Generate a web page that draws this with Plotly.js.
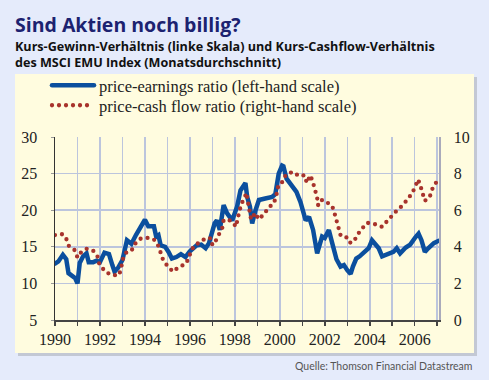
<!DOCTYPE html>
<html>
<head>
<meta charset="utf-8">
<script src="https://cdn.plot.ly/plotly-3.0.1.min.js"></script>
<style>
html,body{margin:0;padding:0;background:#e5ebfb;}
#chart{width:489px;height:380px;}
path.js-line{stroke-linecap:round !important;}
</style>
</head>
<body>
<div id="chart"></div>
<script>
// Price-earnings ratio (left-hand scale)
const peYear = [1990.0,1990.15,1990.35,1990.5,1990.6,1990.8,1990.9,1991.0,1991.1,1991.25,1991.4,1991.5,1991.7,1991.85,1992.0,1992.2,1992.4,1992.55,1992.65,1992.8,1993.0,1993.2,1993.4,1993.6,1993.8,1994.0,1994.15,1994.4,1994.5,1994.6,1994.7,1994.9,1995.05,1995.2,1995.4,1995.6,1995.8,1996.0,1996.3,1996.5,1996.7,1996.85,1997.1,1997.2,1997.33,1997.5,1997.65,1997.88,1998.1,1998.25,1998.47,1998.55,1998.67,1998.77,1998.92,1999.07,1999.35,1999.5,1999.66,1999.8,1999.95,2000.1,2000.16,2000.3,2000.47,2000.74,2000.92,2001.15,2001.3,2001.48,2001.66,2001.88,2002.0,2002.18,2002.33,2002.52,2002.7,2002.85,2003.0,2003.15,2003.25,2003.4,2003.55,2003.8,2003.95,2004.1,2004.25,2004.4,2004.55,2004.75,2005.05,2005.2,2005.35,2005.6,2005.8,2006.03,2006.17,2006.3,2006.45,2006.6,2006.85,2007.05];
const peValue = [12.7,13.0,13.9,13.3,11.4,10.9,10.7,10.0,12.8,13.7,14.1,12.9,12.9,13.1,12.9,14.2,14.0,12.5,11.6,12.1,13.2,15.9,15.4,16.6,17.7,18.7,17.8,17.8,16.4,16.6,15.2,15.0,14.3,13.4,13.6,14.0,13.6,14.4,15.2,15.3,14.8,15.5,18.2,18.6,17.3,20.7,19.6,18.6,20.5,22.7,23.7,21.8,20.5,18.2,20.0,21.4,21.6,21.7,21.8,22.2,25.0,26.1,26.0,24.3,23.6,22.5,21.1,18.6,19.1,17.3,14.1,16.4,16.2,17.3,15.5,13.3,12.3,12.5,11.8,11.3,12.3,13.4,13.7,14.3,14.8,15.9,15.4,14.8,13.7,14.0,14.3,14.8,14.1,14.9,15.3,16.3,16.8,15.9,14.3,14.8,15.5,15.8];

// Price-cash flow ratio (right-hand scale)
const pcfYear = [1990.0,1990.33,1990.5,1990.62,1990.87,1991.0,1991.1,1991.4,1991.7,1991.9,1991.97,1992.25,1992.55,1992.85,1992.95,1993.0,1993.15,1993.4,1993.55,1993.8,1994.1,1994.4,1994.6,1994.7,1994.8,1995.0,1995.25,1995.5,1995.8,1995.95,1996.05,1996.2,1996.45,1996.75,1996.95,1997.0,1997.15,1997.3,1997.45,1997.5,1997.75,1997.95,1998.05,1998.2,1998.3,1998.45,1998.52,1998.58,1998.65,1998.72,1998.8,1998.92,1999.05,1999.3,1999.5,1999.73,1999.85,1999.9,2000.06,2000.15,2000.33,2000.6,2000.85,2001.1,2001.2,2001.36,2001.48,2001.59,2001.66,2001.7,2001.8,2001.96,2002.18,2002.33,2002.43,2002.52,2002.62,2002.7,2002.93,2003.1,2003.29,2003.44,2003.66,2003.88,2004.22,2004.55,2004.77,2005.0,2005.22,2005.47,2005.66,2005.88,2006.03,2006.15,2006.25,2006.36,2006.45,2006.67,2006.77,2006.95];
const pcfValue = [4.64,4.69,4.44,4.04,3.82,3.42,3.64,3.89,3.78,3.45,3.05,2.62,2.45,2.45,2.87,3.27,3.67,3.78,4.15,4.44,4.49,4.40,4.04,3.73,3.31,2.95,2.64,2.89,3.05,3.37,3.78,4.06,4.27,4.50,4.45,4.09,4.33,4.64,5.06,5.46,5.46,5.27,5.09,5.95,6.36,6.75,6.95,6.45,5.85,5.50,5.65,5.85,5.50,5.78,6.15,6.36,6.82,7.24,7.36,7.73,8.00,8.09,7.86,7.91,7.49,7.91,7.49,7.09,6.69,6.27,6.55,6.55,6.36,6.22,5.85,5.42,5.00,4.64,4.58,4.22,4.27,4.64,5.00,5.31,5.24,5.09,5.40,5.73,6.00,6.27,6.58,6.91,7.31,7.68,7.35,6.91,6.51,6.73,7.13,7.51];

const yearTicks = [1990,1991,1992,1993,1994,1995,1996,1997,1998,1999,2000,2001,2002,2003,2004,2005,2006,2007];
const yearLabels = ['1990','','1992','','1994','','1996','','1998','','2000','','2002','','2004','','2006',''];
const leftTicks = [5,10,15,20,25,30];
const rightTicks = [0,2,4,6,8,10];

const seriesNames = ['price-earnings ratio (left-hand scale)','price-cash flow ratio (right-hand scale)'];

const serif = 'Liberation Serif, Times New Roman, serif';
const sans = 'Open Sans, sans-serif';

// geometry helpers (pixel -> paper)
const W = 489, H = 380, ML = 55, MR = 50, MT = 137, MB = 60;
const PW = W - ML - MR, PH = H - MT - MB;
const px = v => (v - ML) / PW;
const py = v => (H - MB - v) / PH;

const traces = [
  {x: peYear, y: peValue, name: seriesNames[0], type: 'scatter', mode: 'lines',
   line: {color: '#0b4f9e', width: 4.5}, yaxis: 'y', legend: 'legend'},
  {x: pcfYear, y: pcfValue, name: seriesNames[1], type: 'scatter', mode: 'lines',
   line: {color: '#a8332c', width: 4.3, dash: '0px,7px'}, yaxis: 'y2', legend: 'legend2'}
];

const legendStyle = (ytop) => ({x: px(47), y: py(ytop), xanchor: 'left', yanchor: 'top',
    font: {family: serif, size: 16.5, color: '#222'}, bgcolor: 'rgba(0,0,0,0)',
    itemwidth: 42, tracegroupgap: 0});

const layout = {
  width: W, height: H,
  margin: {l: ML, r: MR, t: MT, b: MB, pad: 0},
  paper_bgcolor: '#e5ebfb',
  plot_bgcolor: 'rgba(0,0,0,0)',
  showlegend: true,
  legend: legendStyle(68),
  legend2: legendStyle(88),
  xaxis: {range: [1990, 2007.08], tickmode: 'array', tickvals: yearTicks, ticktext: yearLabels,
    showgrid: true, gridcolor: '#bcc5dd', gridwidth: 1.5,
    showline: true, linecolor: '#444', linewidth: 1.5,
    ticks: 'outside', ticklen: 4, tickcolor: '#444', tickwidth: 1.5,
    tickfont: {family: serif, size: 16, color: '#222'}, zeroline: false, fixedrange: true},
  yaxis: {range: [5, 30], tickmode: 'array', tickvals: leftTicks,
    showgrid: true, gridcolor: '#bcc5dd', gridwidth: 1.5,
    showline: true, linecolor: '#333', linewidth: 1.5,
    ticks: 'outside', ticklen: 3, tickcolor: '#999',
    ticklabelstandoff: 10,
    tickfont: {family: serif, size: 16, color: '#222'}, zeroline: false, fixedrange: true},
  yaxis2: {range: [0, 10], overlaying: 'y', side: 'right', tickmode: 'array', tickvals: rightTicks,
    showgrid: false, showline: true, linecolor: '#aab', linewidth: 1.5,
    ticks: '', ticklabelstandoff: 10,
    tickfont: {family: serif, size: 16, color: '#222'}, zeroline: false, fixedrange: true},
  shapes: [
    {type: 'rect', xref: 'paper', yref: 'paper', x0: px(18), x1: px(477), y0: py(77), y1: py(356),
     fillcolor: '#c3c8d4', line: {width: 0}, layer: 'below'},
    {type: 'rect', xref: 'paper', yref: 'paper', x0: px(15), x1: px(474), y0: py(74), y1: py(353),
     fillcolor: '#fffcdf', line: {width: 0}, layer: 'below'}
  ],
  annotations: [
    {text: '<b>Sind Aktien noch billig?</b>', xref: 'paper', yref: 'paper', x: px(13), y: py(24),
     xanchor: 'left', yanchor: 'middle', showarrow: false,
     font: {family: sans, size: 19.5, color: '#1c2270'}},
    {text: '<b>Kurs-Gewinn-Verhältnis (linke Skala) und Kurs-Cashflow-Verhältnis<br>des MSCI EMU Index (Monatsdurchschnitt)</b>',
     xref: 'paper', yref: 'paper', x: px(13), y: py(55), xanchor: 'left', yanchor: 'middle',
     align: 'left', showarrow: false, font: {family: sans, size: 12.6, color: '#111'}},
    {text: 'Quelle: Thomson Financial Datastream', xref: 'paper', yref: 'paper', x: px(474), y: py(366),
     xanchor: 'right', yanchor: 'middle', showarrow: false,
     font: {family: 'Lato, sans-serif', size: 10.5, color: '#555'}}
  ]
};

Plotly.newPlot('chart', traces, layout, {displayModeBar: false, staticPlot: true});
</script>
</body>
</html>
